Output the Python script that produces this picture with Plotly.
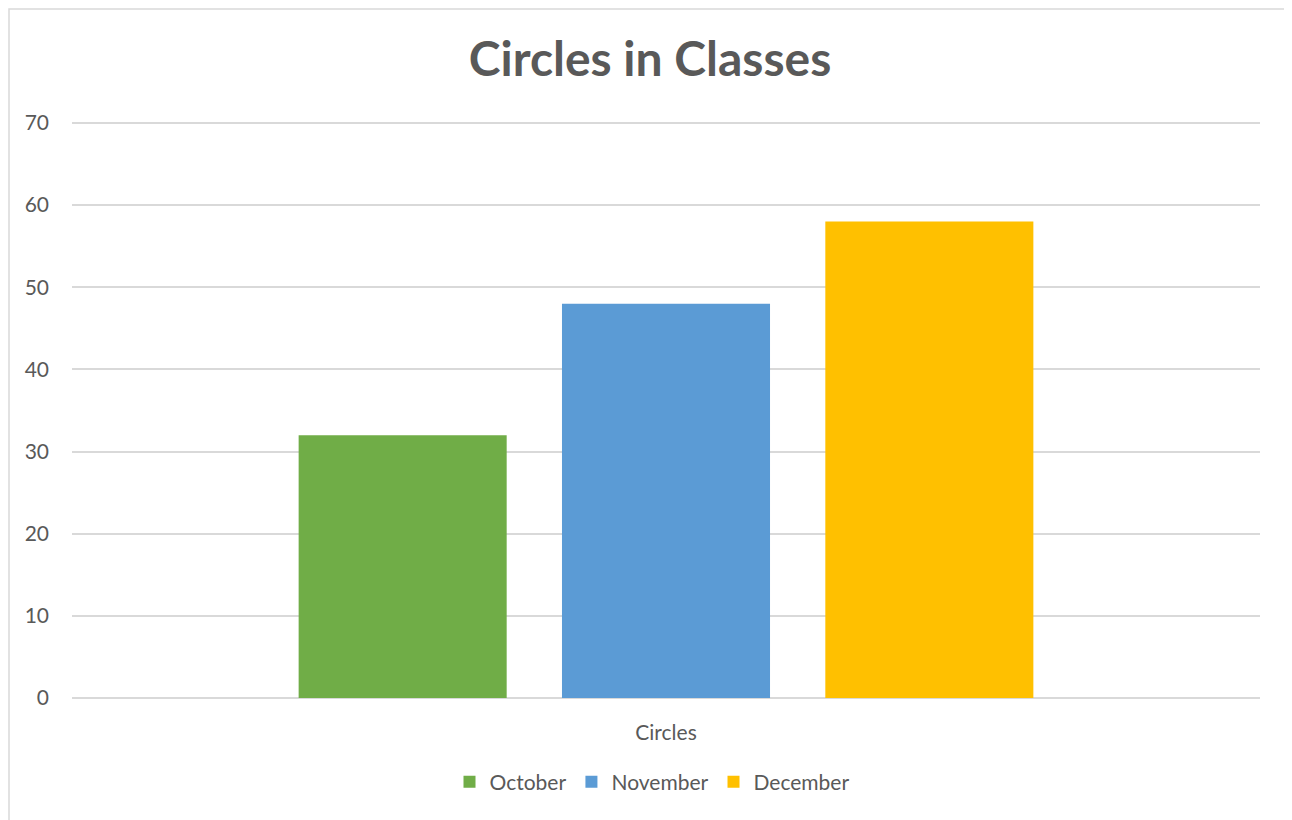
import plotly.graph_objects as go

categories = ["Circles"]
series_names = ["October", "November", "December"]
series_values = [[32], [48], [58]]
colors = ["#70AD47", "#5B9BD5", "#FFC000"]
y_ticks = [0, 10, 20, 30, 40, 50, 60, 70]

fig = go.Figure()
for name, vals, c in zip(series_names, series_values, colors):
    fig.add_trace(go.Bar(x=categories, y=vals, name=name, marker=dict(color=c, line=dict(width=0))))

# page is offset by the default 8px body margin
OFF = 8
W, H = 1292 - OFF, 820 - OFF
L, R, T, B = 72 - OFF, 32, 112, 122
pw, ph = W - L - R, H - T - B
# keep 70 at the same pixel as the reference (575 px for 0..70) while leaving room for its gridline
y_top = 70 * ph / 575


def px_x(page_x):
    return (page_x - OFF - L) / pw


def px_y(page_y):
    return (H - B - (page_y - OFF)) / ph


FONT = "Lato, Open Sans, sans-serif"
GREY = "#595959"

fig.update_layout(
    width=W, height=H,
    margin=dict(l=L, r=R, t=T, b=B),
    paper_bgcolor="white", plot_bgcolor="white",
    barmode="group", bargap=0.335, bargroupgap=0.21,
    font=dict(family=FONT, color=GREY, size=21),
    title=dict(text="<b>Circles in Classes</b>", x=0.5, xanchor="center",
               y=1 - (59 - OFF) / H, yanchor="middle",
               font=dict(size=48, color=GREY, family=FONT)),
    showlegend=True,
    legend=dict(orientation="h", x=px_x(652), xanchor="center", y=px_y(782), yanchor="middle",
                font=dict(size=21, color=GREY), traceorder="normal"),
    xaxis=dict(showgrid=False, showline=False, ticks="", ticklabelstandoff=20,
               tickfont=dict(size=21, color=GREY)),
    yaxis=dict(range=[0, y_top], tickvals=y_ticks, showgrid=True, gridcolor="#D9D9D9", gridwidth=1.5,
               zeroline=True, zerolinecolor="#D9D9D9", zerolinewidth=1.5, showline=False,
               ticks="", ticklabelstandoff=22, tickfont=dict(size=21, color=GREY)),
    shapes=[dict(type="rect", xref="paper", yref="paper",
                 x0=px_x(9), x1=px_x(1289), y0=px_y(840), y1=px_y(9),
                 line=dict(color="#D9D9D9", width=1.5), fillcolor="rgba(0,0,0,0)", layer="below")],
)

fig.write_html("out.html")
